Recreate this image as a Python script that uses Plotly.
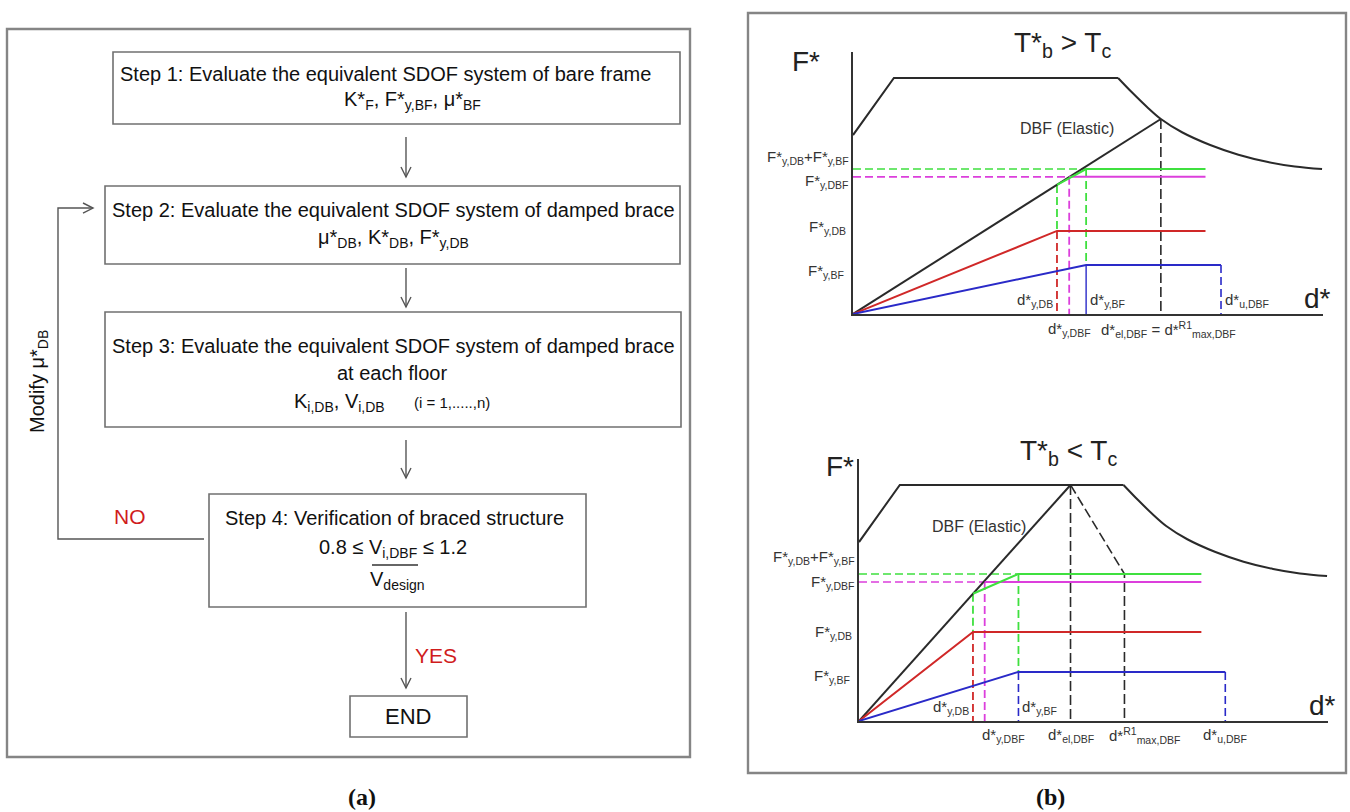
import plotly.graph_objects as go

W, H = 1350, 812
SANS = "Liberation Sans, Arial, Helvetica, sans-serif"
SERIF = "Liberation Serif, Times New Roman, serif"

# ---------------- design spectrum (same curve in both diagrams) ----------------
spec_knee_d = [0.0, 8.7, 56.4]
spec_knee_F = [75.8, 100.0, 100.0]
spec_tail_d = [56.4, 59.5, 62.5, 65.5, 70.0, 76.0, 82.0, 88.3, 94.0, 99.8]
spec_tail_F = [100.0, 93.6, 87.8, 82.6, 77.0, 71.6, 67.5, 64.4, 62.5, 61.4]

# ---------------- capacity curves: [0] T*b > Tc, [1] T*b < Tc ----------------
case_titles = ["T*<sub>b</sub> > T<sub>c</sub>", "T*<sub>b</sub> < T<sub>c</sub>"]
d_el = [65.5, 45.1]      # elastic DBF demand point
F_el = [82.6, 100.0]
d_max = [65.5, 56.6]     # d*R1 max,DBF
F_max = [82.6, 62.3]
d_y_db = [43.4, 24.3]    # damped brace yield
F_y_db = [35.2, 37.7]
d_y_bf = [49.6, 34.0]    # bare frame yield
F_y_bf = [20.8, 20.8]
d_y_dbf = [46.0, 26.8]   # braced frame equivalent yield
F_y_dbf = [58.1, 58.9]
F_knee = [54.7, 53.9]    # DBF force at d*y,DB
F_sum = [61.4, 62.3]     # F*y,DB + F*y,BF
d_u_dbf = [78.3, 78.1]   # ultimate displacement
d_end = [75.0, 73.0]     # end of drawn plateaus
elastic_label_d = [45.5, 25.5]
elastic_label_F = [78.4, 82.2]

BLACK = "#2a2a2a"
RED = "#d02828"
BLUE = "#2a2ac8"
GREEN = "#3fe03f"
MAGENTA = "#dc3fdc"
BOXLINE = "#707070"

fig = go.Figure()


def line(i, xs, ys, color, width=2.0, dash=None, shape="linear"):
    ax = "" if i == 0 else "2"
    fig.add_trace(go.Scatter(
        x=xs, y=ys, mode="lines", xaxis="x" + ax, yaxis="y" + ax,
        line=dict(color=color, width=width, dash=dash, shape=shape),
        showlegend=False, hoverinfo="skip"))


for i in range(2):
    # dashed guides
    line(i, [d_el[i], d_el[i]], [F_el[i], 0], BLACK, 1.6, "10px,4px")
    if d_max[i] != d_el[i]:
        line(i, [d_el[i], d_max[i], d_max[i]], [F_el[i], F_max[i], 0], BLACK, 1.6, "10px,4px")
    line(i, [0, d_y_bf[i]], [F_sum[i], F_sum[i]], GREEN, 1.6, "8px,4px")
    line(i, [0, d_y_dbf[i]], [F_y_dbf[i], F_y_dbf[i]], MAGENTA, 1.6, "8px,4px")
    line(i, [d_y_db[i], d_y_db[i]], [F_y_db[i], 0], RED, 1.8, "8px,4px")
    line(i, [d_y_db[i], d_y_db[i]], [F_knee[i], F_y_db[i]], GREEN, 1.8, "8px,4px")
    line(i, [d_y_bf[i], d_y_bf[i]], [F_sum[i], F_y_bf[i]], GREEN, 1.8, "8px,4px")
    line(i, [d_y_dbf[i], d_y_dbf[i]], [F_y_dbf[i], 0], MAGENTA, 1.8, "8px,4px")
    if i == 0:
        line(i, [d_y_bf[i], d_y_bf[i]], [F_y_bf[i], 0], BLUE, 1.4)
    else:
        line(i, [d_y_bf[i], d_y_bf[i]], [F_y_bf[i], 0], BLUE, 1.6, "8px,4px")
    line(i, [d_u_dbf[i], d_u_dbf[i]], [F_y_bf[i], 0], BLUE, 1.6, "8px,4px")

    # spectrum
    line(i, spec_knee_d, spec_knee_F, BLACK, 2.0)
    line(i, spec_tail_d, spec_tail_F, BLACK, 2.0, shape="spline")
    # elastic DBF
    line(i, [0, d_el[i]], [0, F_el[i]], BLACK, 2.0)
    # bilinear curves
    line(i, [0, d_y_db[i], d_end[i]], [0, F_y_db[i], F_y_db[i]], RED, 2.0)
    line(i, [0, d_y_bf[i], d_u_dbf[i]], [0, F_y_bf[i], F_y_bf[i]], BLUE, 2.0)
    line(i, [d_y_dbf[i], d_end[i]], [F_y_dbf[i], F_y_dbf[i]], MAGENTA, 2.0)
    line(i, [d_y_db[i], d_y_bf[i], d_end[i]], [F_knee[i], F_sum[i], F_sum[i]], GREEN, 2.0)


def X(px):
    return px / W


def Y(py):
    return 1 - py / H


shapes = []
annotations = []


def rect(x0, y0, x1, y1, color=BOXLINE, width=1.6):
    shapes.append(dict(type="rect", xref="paper", yref="paper",
                       x0=X(x0), x1=X(x1), y0=Y(y1), y1=Y(y0),
                       line=dict(color=color, width=width)))


def path(points, color="#555555", width=1.4):
    d = "M " + " L ".join(f"{X(x):.5f},{Y(y):.5f}" for x, y in points)
    shapes.append(dict(type="path", xref="paper", yref="paper", path=d,
                       line=dict(color=color, width=width)))


def arrow_down(x, y0, y1):
    path([(x, y0), (x, y1)])
    path([(x - 5, y1 - 10), (x, y1), (x + 5, y1 - 10)])


def text(px, py, s, size, color="#111111", xanchor="center", family=SANS, angle=0):
    annotations.append(dict(xref="paper", yref="paper", x=X(px), y=Y(py), text=s,
                            showarrow=False, xanchor=xanchor, yanchor="middle",
                            textangle=angle,
                            font=dict(size=size, color=color, family=family)))


def chart_text(i, d, F, s, size, xanchor="center", xshift=0, yshift=0):
    ax = "" if i == 0 else "2"
    annotations.append(dict(xref="x" + ax, yref="y" + ax, x=d, y=F, text=s,
                            showarrow=False, xanchor=xanchor, yanchor="middle",
                            xshift=xshift, yshift=yshift,
                            font=dict(size=size, color="#333333", family=SANS)))


# ---------------- (a) flowchart ----------------
rect(7, 29, 690, 757, "#858585", 2.4)
rect(113, 52, 680, 124)
rect(105, 186, 680, 264)
rect(105, 312, 681, 427)
rect(209, 494, 586, 607)
rect(350, 696, 467, 737)

arrow_down(406, 137, 177)
arrow_down(406, 268, 307)
arrow_down(406, 440, 478)
arrow_down(406, 612, 688)

path([(204, 539), (58, 539), (58, 208), (93, 208)])
path([(83, 203), (93, 208), (83, 213)])

text(118, 74, "Step 1: Evaluate the equivalent SDOF system of bare frame", 20, xanchor="left")
text(412, 101, "K*<sub>F</sub>, F*<sub>y,BF</sub>, μ*<sub>BF</sub>", 20)
text(110, 210, "Step 2: Evaluate the equivalent SDOF system of damped brace", 20, xanchor="left")
text(393, 238, "μ*<sub>DB</sub>, K*<sub>DB</sub>, F*<sub>y,DB</sub>", 20)
text(110, 346, "Step 3: Evaluate the equivalent SDOF system of damped brace", 20, xanchor="left")
text(392, 373, "at each floor", 20)
text(340, 402, "K<sub>i,DB</sub>, V<sub>i,DB</sub>", 20)
text(452, 402, "(i = 1,.....,n)", 15)
text(394, 518, "Step 4: Verification of braced structure", 20)
text(393, 548, "0.8 ≤ V<sub>i,DBF</sub> ≤ 1.2", 20)
path([(372, 565), (418, 565)], "#333333", 1.4)
text(397, 580, "V<sub>design</sub>", 20)
text(130, 516, "NO", 21, color="#d01c1c")
text(413, 655, "YES", 21, color="#d01c1c", xanchor="left")
text(408, 716, "END", 22)
text(38, 382, "Modify μ*<sub>DB</sub>", 20, angle=-90)
text(362, 797, "<b>(a)</b>", 24, family=SERIF)

# ---------------- (b) capacity / demand diagrams ----------------
rect(748, 13, 1346, 773, "#858585", 2.4)
text(1050, 797, "<b>(b)</b>", 24, family=SERIF)

text(1062, 45, case_titles[0], 28, color="#222222")
text(1068, 452, case_titles[1], 28, color="#222222")
text(806, 61, "F*", 28, color="#222222")
text(840, 466, "F*", 28, color="#222222")
text(1317, 298, "d*", 28, color="#222222")
text(1322, 705, "d*", 28, color="#222222")

for i in range(2):
    chart_text(i, 0, F_sum[i], "F*<sub>y,DB</sub>+F*<sub>y,BF</sub>", 15, "right", -2, 12 if i == 0 else 16)
    chart_text(i, 0, F_y_dbf[i], "F*<sub>y,DBF</sub>", 15, "right", -3, -5 if i == 0 else -1)
    chart_text(i, 0, F_y_db[i], "F*<sub>y,DB</sub>", 15, "right", -5, 3 if i == 0 else 0)
    chart_text(i, 0, F_y_bf[i], "F*<sub>y,BF</sub>", 15, "right", -7, -7 if i == 0 else -5)
    chart_text(i, d_y_db[i], 0, "d*<sub>y,DB</sub>", 15, "right", -2, 14)
    chart_text(i, d_y_bf[i], 0, "d*<sub>y,BF</sub>", 15, "left", 2, 14)
    chart_text(i, elastic_label_d[i], elastic_label_F[i], "DBF (Elastic)", 16, "center")

chart_text(0, d_u_dbf[0], 0, "d*<sub>u,DBF</sub>", 15, "left", 2, 14)
chart_text(0, d_y_dbf[0], 0, "d*<sub>y,DBF</sub>", 15, "center", 0, -15)
chart_text(0, d_el[0], 0, "d*<sub>el,DBF</sub> = d*<sup>R1</sup><sub>max,DBF</sub>", 15, "center", 8, -15)

chart_text(1, d_y_dbf[1], 0, "d*<sub>y,DBF</sub>", 15, "left", -5, -14)
chart_text(1, d_el[1], 0, "d*<sub>el,DBF</sub>", 15, "center", 0, -14)
chart_text(1, d_max[1], 0, "d*<sup>R1</sup><sub>max,DBF</sub>", 15, "left", -17, -14)
chart_text(1, d_u_dbf[1], 0, "d*<sub>u,DBF</sub>", 15, "center", 0, -14)


def axis(domain, rng):
    return dict(domain=domain, range=rng, showgrid=False, zeroline=False,
                showticklabels=False, ticks="", showline=True,
                linecolor="#333333", linewidth=2, fixedrange=True)


fig.update_layout(
    width=W, height=H,
    margin=dict(l=0, r=0, t=0, b=0),
    paper_bgcolor="white", plot_bgcolor="white",
    font=dict(family=SANS, color="#111111"),
    xaxis=dict(axis([853 / W, 1323 / W], [0, 100]), anchor="y"),
    yaxis=dict(axis([1 - 314 / H, 1 - 52 / H], [0, 111]), anchor="x"),
    xaxis2=dict(axis([859 / W, 1328 / W], [0, 100]), anchor="y2"),
    yaxis2=dict(axis([1 - 721 / H, 1 - 459 / H], [0, 111]), anchor="x2"),
    shapes=shapes,
    annotations=annotations,
)

fig.write_html("out.html")
